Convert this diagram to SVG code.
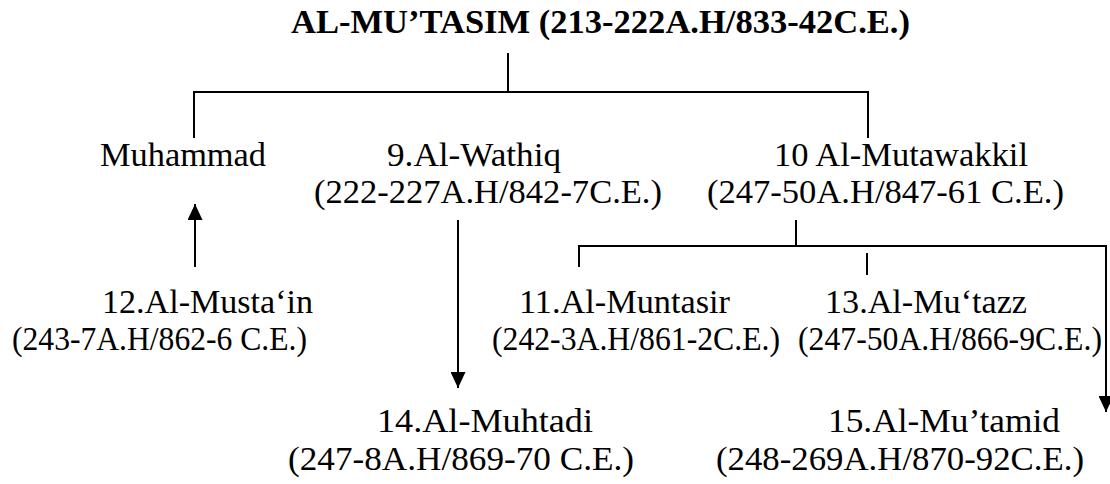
<svg xmlns="http://www.w3.org/2000/svg" width="1110" height="484" viewBox="0 0 1110 484">
<defs>
<style>
text{fill:#000;font-family:"Liberation Serif","Times New Roman",Times,Tinos,"Noto Serif","DejaVu Serif","Nimbus Roman","Nimbus Roman No9 L",FreeSerif,serif;}
.t{font-size:33px;font-weight:bold;}
.n{font-size:34px;}
.d{font-size:33px;}
.c{stroke:#000;stroke-width:2;fill:none;}
</style>
<marker id="ah" viewBox="0 0 16 15" refX="16" refY="7.5" markerWidth="16" markerHeight="15" markerUnits="userSpaceOnUse" orient="auto">
<path d="M0,0 L16,7.5 L0,15 z" fill="#000"/>
</marker>
</defs>
<rect width="1110" height="484" fill="#fff"/>
<g id="connectors">
<path class="c" d="M508,53 V92"/>
<path class="c" d="M194,138 V92 H868 V138"/>
<line class="c" x1="195" y1="267" x2="195" y2="204" marker-end="url(#ah)"/>
<line class="c" x1="458" y1="220" x2="458" y2="388" marker-end="url(#ah)"/>
<path class="c" d="M796,220 V246"/>
<path class="c" d="M579,267 V246 H1106 V412" marker-end="url(#ah)"/>
<path class="c" d="M867,253 V275"/>
</g>
<g id="mutasim"><text class="t" x="291" y="33" textLength="619" lengthAdjust="spacingAndGlyphs">AL-MU’TASIM (213-222A.H/833-42C.E.)</text></g>
<g id="muhammad"><text class="n" x="100" y="166" textLength="166" lengthAdjust="spacingAndGlyphs">Muhammad</text></g>
<g id="wathiq">
<text class="n" x="387" y="166" textLength="174" lengthAdjust="spacingAndGlyphs">9.Al-Wathiq</text>
<text class="d" x="314" y="203" textLength="348" lengthAdjust="spacingAndGlyphs">(222-227A.H/842-7C.E.)</text>
</g>
<g id="mutawakkil">
<text class="n" x="774" y="166" textLength="254" lengthAdjust="spacingAndGlyphs">10 Al-Mutawakkil</text>
<text class="d" x="707" y="203" textLength="357" lengthAdjust="spacingAndGlyphs">(247-50A.H/847-61 C.E.)</text>
</g>
<g id="mustain">
<text class="n" x="102" y="313" textLength="211" lengthAdjust="spacingAndGlyphs">12.Al-Musta‘in</text>
<text class="d" x="12" y="350" textLength="295" lengthAdjust="spacingAndGlyphs">(243-7A.H/862-6 C.E.)</text>
</g>
<g id="muntasir">
<text class="n" x="519" y="313" textLength="211" lengthAdjust="spacingAndGlyphs">11.Al-Muntasir</text>
<text class="d" x="492" y="350" textLength="288" lengthAdjust="spacingAndGlyphs">(242-3A.H/861-2C.E.)</text>
</g>
<g id="mutazz">
<text class="n" x="825" y="313" textLength="202" lengthAdjust="spacingAndGlyphs">13.Al-Mu‘tazz</text>
<text class="d" x="798" y="350" textLength="304" lengthAdjust="spacingAndGlyphs">(247-50A.H/866-9C.E.)</text>
</g>
<g id="muhtadi">
<text class="n" x="377" y="432" textLength="216" lengthAdjust="spacingAndGlyphs">14.Al-Muhtadi</text>
<text class="d" x="288" y="470" textLength="346" lengthAdjust="spacingAndGlyphs">(247-8A.H/869-70 C.E.)</text>
</g>
<g id="mutamid">
<text class="n" x="828" y="432" textLength="232" lengthAdjust="spacingAndGlyphs">15.Al-Mu’tamid</text>
<text class="d" x="716" y="470" textLength="368" lengthAdjust="spacingAndGlyphs">(248-269A.H/870-92C.E.)</text>
</g>
</svg>
